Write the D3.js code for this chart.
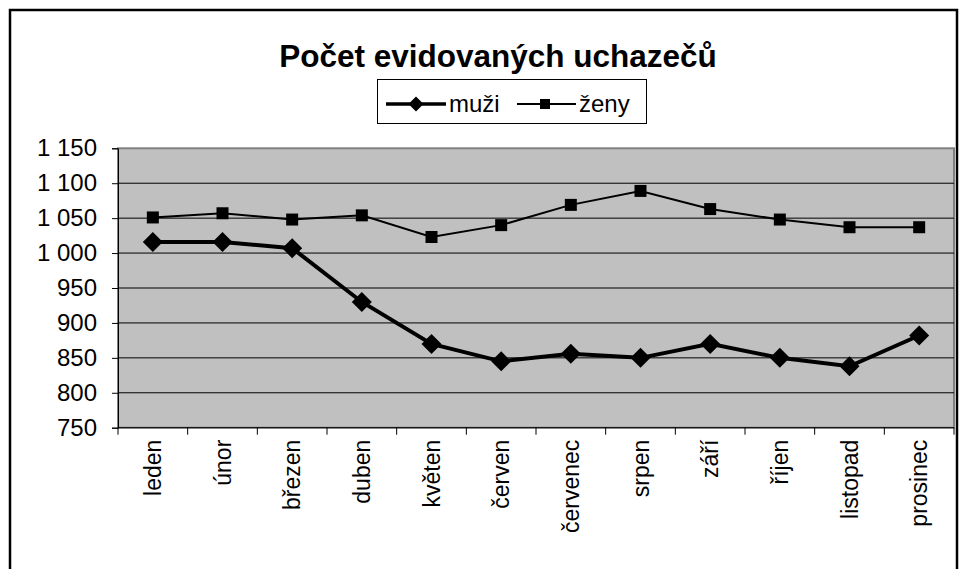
<!DOCTYPE html>
<html>
<head>
<meta charset="utf-8">
<title>Počet evidovaných uchazečů</title>
<style>
  body { margin: 0; background: #fff; }
  svg text { font-family: "Liberation Sans", Arial, sans-serif; fill: #000; }
</style>
</head>
<body>
<div id="chart"></div>
<script src="https://d3js.org/d3.v7.min.js"></script>
<script>
var months = ['leden','únor','březen','duben','květen','červen','červenec','srpen','září','říjen','listopad','prosinec'];
var muzi = [1016, 1016, 1007, 930, 870, 845, 856, 850, 870, 850, 838, 882];
var zeny = [1051, 1057, 1048, 1054, 1023, 1040, 1069, 1089, 1063, 1048, 1037, 1037];
var yTicks = [750, 800, 850, 900, 950, 1000, 1050, 1100, 1150];

var width = 959, height = 569;
var plotLeft = 118, plotRight = 954, plotTop = 148.3, plotBottom = 427.7;

var svg = d3.select('#chart').append('svg')
  .attr('width', width)
  .attr('height', height);

// outer frame
svg.append('rect')
  .attr('x', 10).attr('y', 10)
  .attr('width', 947).attr('height', 600)
  .attr('fill', 'none')
  .attr('stroke', '#000')
  .attr('stroke-width', 2.5);

var x = d3.scaleBand().domain(months).range([plotLeft, plotRight]);
var y = d3.scaleLinear().domain([750, 1150]).range([plotBottom, plotTop]);
var cx = function(i){ return x(months[i]) + x.bandwidth() / 2; };

// plot area
svg.append('rect')
  .attr('x', plotLeft).attr('y', plotTop)
  .attr('width', plotRight - plotLeft).attr('height', plotBottom - plotTop)
  .attr('fill', '#c0c0c0')
  .attr('stroke', '#808080')
  .attr('stroke-width', 2);

// gridlines
svg.append('g')
  .selectAll('line')
  .data(yTicks.slice(1, -1))
  .enter()
  .append('line')
  .attr('x1', plotLeft).attr('x2', plotRight)
  .attr('y1', function(d){ return y(d); })
  .attr('y2', function(d){ return y(d); })
  .attr('stroke', '#000')
  .attr('stroke-width', 1);

var fmt = function(d){ return d3.format(',')(d).replace(',', ' '); };

// y axis
var yAxis = svg.append('g')
  .attr('transform', 'translate(' + plotLeft + ',0)')
  .call(d3.axisLeft(y).tickValues(yTicks).tickSize(6).tickPadding(15).tickFormat(fmt));
yAxis.selectAll('text')
  .attr('font-size', 24)
  .style('font-family', '"Liberation Sans", Arial, sans-serif');
yAxis.selectAll('line, path').attr('stroke', '#000');

// x axis: ticks at category boundaries
var bounds = months.map(function(m){ return x(m); }).concat([plotRight]);
svg.append('line')
  .attr('x1', plotLeft).attr('x2', plotRight)
  .attr('y1', plotBottom).attr('y2', plotBottom)
  .attr('stroke', '#000');
svg.append('g')
  .selectAll('line')
  .data(bounds)
  .enter()
  .append('line')
  .attr('x1', function(d){ return d; })
  .attr('x2', function(d){ return d; })
  .attr('y1', plotBottom).attr('y2', plotBottom + 7)
  .attr('stroke', '#000');

svg.append('g')
  .selectAll('text')
  .data(months)
  .enter()
  .append('text')
  .attr('transform', function(d, i){
    return 'translate(' + cx(i) + ',' + (plotBottom + 12) + ') rotate(-90)';
  })
  .attr('text-anchor', 'end')
  .attr('dy', '0.35em')
  .attr('font-size', 23)
  .text(function(d){ return d; });

// lines
var line = d3.line()
  .x(function(d, i){ return cx(i); })
  .y(function(d){ return y(d); });

svg.append('path')
  .datum(zeny)
  .attr('d', line)
  .attr('fill', 'none')
  .attr('stroke', '#000')
  .attr('stroke-width', 2);

svg.append('path')
  .datum(muzi)
  .attr('d', line)
  .attr('fill', 'none')
  .attr('stroke', '#000')
  .attr('stroke-width', 4);

svg.append('g')
  .selectAll('rect')
  .data(zeny)
  .enter()
  .append('rect')
  .attr('x', function(d, i){ return cx(i) - 6; })
  .attr('y', function(d){ return y(d) - 6; })
  .attr('width', 12).attr('height', 12)
  .attr('fill', '#000');

svg.append('g')
  .selectAll('path')
  .data(muzi)
  .enter()
  .append('path')
  .attr('d', 'M0,-10L10,0L0,10L-10,0Z')
  .attr('transform', function(d, i){
    return 'translate(' + cx(i) + ',' + y(d) + ')';
  })
  .attr('fill', '#000');

// title
svg.append('text')
  .attr('x', 498).attr('y', 67)
  .attr('text-anchor', 'middle')
  .attr('font-size', 31.5)
  .attr('font-weight', 'bold')
  .text('Počet evidovaných uchazečů');

// legend
var lg = svg.append('g');
lg.append('rect')
  .attr('x', 377.5).attr('y', 79.5)
  .attr('width', 269).attr('height', 44)
  .attr('fill', '#fff')
  .attr('stroke', '#000')
  .attr('stroke-width', 1);
lg.append('line')
  .attr('x1', 386).attr('x2', 446).attr('y1', 104).attr('y2', 104)
  .attr('stroke', '#000').attr('stroke-width', 3.5);
lg.append('path')
  .attr('d', 'M0,-7.5L7.5,0L0,7.5L-7.5,0Z')
  .attr('transform', 'translate(416,104)')
  .attr('fill', '#000');
lg.append('text')
  .attr('x', 449).attr('y', 112)
  .attr('font-size', 24)
  .text('muži');
lg.append('line')
  .attr('x1', 517).attr('x2', 576).attr('y1', 104).attr('y2', 104)
  .attr('stroke', '#000').attr('stroke-width', 2);
lg.append('rect')
  .attr('x', 540).attr('y', 99).attr('width', 10).attr('height', 10)
  .attr('fill', '#000');
lg.append('text')
  .attr('x', 579).attr('y', 112)
  .attr('font-size', 24)
  .text('ženy');
</script>
</body>
</html>
